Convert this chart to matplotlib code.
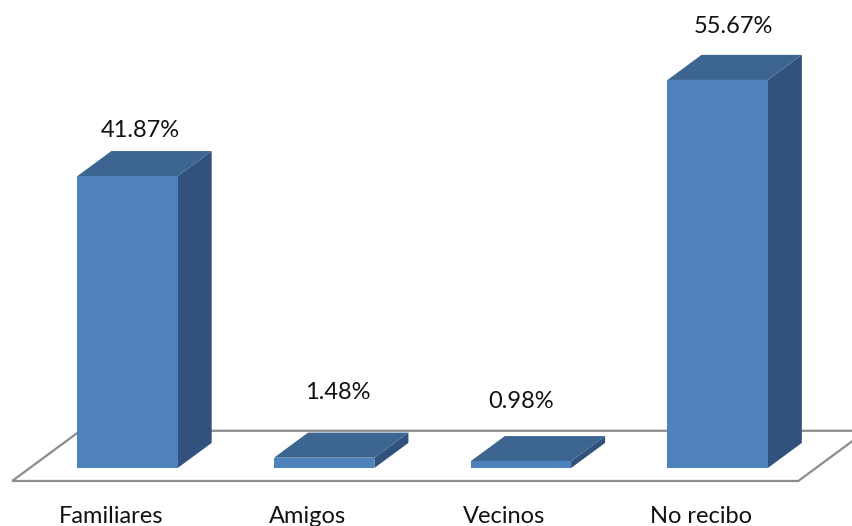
import matplotlib
matplotlib.use('Agg')
import matplotlib.pyplot as plt
from matplotlib.patches import Polygon


categories = ['Familiares', 'Amigos', 'Vecinos', 'No recibo']
values     = [41.87, 1.48, 0.98, 55.67]

FRONT = '#4F81BD'
TOP   = '#3C6591'
SIDE  = '#31527C'
FLOOR = '#8C8C8C'

BAR_W = 0.51      # front face width, in category units
DX    = 0.173     # depth offset, x (category units)
DY    = 3.6       # depth offset, y (percent units)

# nudges for the value labels (x in category units, y in percent)
LABEL_DX = [0.064, 0.070, 0.000, 0.078]
LABEL_DY = [3.0, 5.7, 4.9, 4.0]

plt.rcParams['font.family'] = ['Lato', 'DejaVu Sans']

fig = plt.figure(figsize=(8.53, 5.26), dpi=100)
ax = fig.add_axes([0, 0, 1, 1])
ax.set_xlim(-0.648, 3.688)
ax.set_ylim(-8.32, 67.14)
ax.axis('off')

# floor of the 3d plot
fx0, fx1 = -0.586, 3.41
fy0 = -1.86
floor = Polygon([(fx0, fy0), (fx1, fy0), (fx1 + 2 * DX, fy0 + 2 * DY),
                 (fx0 + 2 * DX, fy0 + 2 * DY)], closed=True,
                facecolor='white', edgecolor=FLOOR, lw=1.6, zorder=1)
ax.add_patch(floor)

for i, (cat, v) in enumerate(zip(categories, values)):
    x0, x1 = i - BAR_W / 2, i + BAR_W / 2
    front = [(x0, 0), (x1, 0), (x1, v), (x0, v)]
    top   = [(x0, v), (x1, v), (x1 + DX, v + DY), (x0 + DX, v + DY)]
    side  = [(x1, 0), (x1 + DX, DY), (x1 + DX, v + DY), (x1, v)]
    ax.add_patch(Polygon(side, closed=True, facecolor=SIDE, edgecolor='none', zorder=3))
    ax.add_patch(Polygon(top, closed=True, facecolor=TOP, edgecolor='none', zorder=3))
    ax.add_patch(Polygon(front, closed=True, facecolor=FRONT, edgecolor='none', zorder=4))
    ax.text(i + LABEL_DX[i], v + DY + LABEL_DY[i], f'{v:.2f}%', ha='center', va='center',
            fontsize=17, color='#111111', zorder=5)
    ax.text(i - 0.084, -6.9, cat, ha='center', va='center',
            fontsize=17, color='#111111', zorder=5)

fig.savefig('out.png', dpi=100)
